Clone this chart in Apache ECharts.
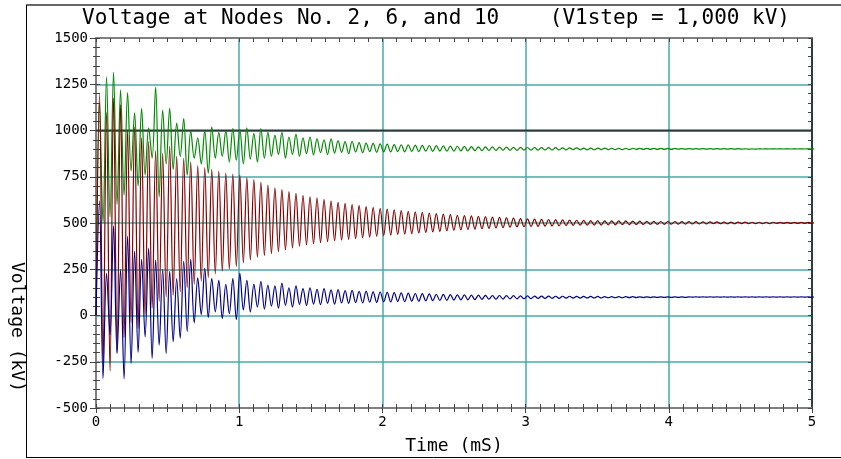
<!DOCTYPE html>
<html><head><meta charset="utf-8">
<script src="https://cdn.jsdelivr.net/npm/echarts@6/dist/echarts.min.js"></script>
<style>html,body{margin:0;padding:0;background:#fff}#c{width:841px;height:459px}</style>
</head><body><div id="c"></div>
<script>
// sample spacing of the read-off values (half of the ~0.049 ms ringing period)
const sampleStepMs = 0.0245;

// Node 2 (green) voltage in kV
const node2 = [
0,1150,500,1290,530,1315,600,1220,650,1205,
780,1095,700,1120,760,1015,850,1235,640,1110,
820,1120,790,1040,860,1065,760,1000,850,960,
820,1000,770,1020,850,990,860,1000,830,1010,
840,1005,820,1015,845,985,830,1010,850,990,
860,975,870,990,850,965,870,980,860,960,
875,965,868,955,880,950,870,955,878,945,
882,940,875,942,884,935,880,932,886,930,
882,928,885,926,884,924,886,923,885,922,
887,921,886,920,888,919,887,918,889,917,
888,916,889,915,890,914,890,913,891,912,
891,912,892,911,892,910,893,910,893,909,
893,909,894,908,894,908,894,907,895,907,
895,907,895,906,895,906,896,906,896,905,
896,905,896,905,897,905,897,904,897,904,
897,904,897,904,898,903,898,903,898,903,
898,903,898,903,898,903,899,902,899,902,
899,902,899,902,899,902,899,902,899,902,
899,902,899,902,899,901,899,901,899,901,
900,901,900,901,900,901,900,901,900,901,
900,901,900,901,900,901
];

// Node 6 (red) voltage in kV
const node6 = [
0,1200,-260,1100,-300,1175,-200,1140,-120,1000,
-40,1020,-70,960,5,940,40,890,76,875,
100,915,110,860,130,850,150,830,170,810,
185,800,205,790,225,780,240,770,250,765,
265,760,285,745,300,735,315,720,325,705,
335,690,345,680,355,670,365,660,375,650,
382,642,388,634,394,626,399,619,404,612,
408,606,412,600,416,594,420,589,424,584,
428,579,431,575,434,571,437,567,440,563,
443,560,446,557,449,554,452,551,455,548,
458,545,461,542,463,540,465,538,467,536,
469,534,471,532,473,530,475,528,477,526,
479,524,480,522,481,521,482,520,483,519,
484,518,485,517,486,516,487,515,488,514,
488,513,489,513,489,512,490,512,490,511,
491,511,491,510,492,510,492,509,493,509,
493,508,493,508,494,508,494,507,494,507,
495,507,495,506,495,506,496,506,496,505,
496,505,496,505,497,505,497,504,497,504,
497,504,497,504,498,503,498,503,498,503,
498,503,498,503,499,502
];

// Node 10 (blue) voltage in kV
const node10 = [
0,620,-340,228,-103,484,-206,250,-342,429,
-260,348,-200,304,-116,364,-232,300,-160,250,
-206,239,-141,200,-123,293,-87,304,-40,203,
5,255,-10,200,20,190,-16,168,10,200,
-22,228,30,190,20,170,45,185,35,165,
50,160,40,175,55,150,45,160,60,145,
55,150,62,141,58,145,66,138,62,140,
68,134,66,136,70,130,68,132,72,128,
71,127,74,125,73,124,76,122,75,121,
78,119,77,118,79,117,80,115,81,114,
82,113,83,112,84,111,85,110,86,110,
87,109,88,108,88,108,89,107,90,107,
90,106,91,106,91,105,92,105,92,105,
93,104,93,104,94,104,94,103,94,103,
95,103,95,103,95,102,96,102,96,102,
96,102,97,102,97,101,97,101,97,101,
98,101,98,101,98,101,98,101,98,101,
99,101,99,101,99,101,99,101,99,101,
99,101,99,101,99,101,99,101,99,101,
99,101,99,101,99,101,99,101,99,101,
99,101,99,101,99,101
];

// V1 step level (kV)
const v1stepLevel = [[0, 1000], [5, 1000]];

const xRange = [0, 5];
const yRange = [-500, 1500];
const titleText = 'Voltage at Nodes No. 2, 6, and 10    (V1step = 1,000 kV)';
const xName = 'Time (mS)';
const yName = 'Voltage (kV)';

const toPairs = arr => arr.map((v, i) => [+(i * sampleStepMs).toFixed(4), v]);

const MONO = '"DejaVu Sans Mono", "Liberation Mono", monospace';
const TEAL = '#4aa8a8';
const plain = v => String(v);

const chart = echarts.init(document.getElementById('c'), null, {renderer: 'canvas'});
const rect = {left: 96, right: 29, top: 38, bottom: 51, containLabel: false};

chart.setOption({
  animation: false,
  backgroundColor: '#fff',
  grid: [Object.assign({}, rect), Object.assign({}, rect)],
  xAxis: [
    {type: 'value', gridIndex: 0, position: 'bottom', min: xRange[0], max: xRange[1], interval: 1,
     axisLine: {show: true, onZero: false, lineStyle: {color: '#808080', width: 2}},
     axisTick: {show: true, inside: false, length: 5, lineStyle: {color: '#444'}},
     minorTick: {show: true, splitNumber: 10, length: 4, lineStyle: {color: '#444'}},
     axisLabel: {margin: 7, fontFamily: MONO, fontSize: 14, color: '#000', formatter: plain},
     splitLine: {show: true, lineStyle: {color: TEAL, width: 1.5}}},
    {type: 'value', gridIndex: 0, position: 'top', min: xRange[0], max: xRange[1], interval: 1,
     axisLine: {show: true, onZero: false, lineStyle: {color: '#808080', width: 2}},
     axisTick: {show: true, inside: true, length: 4, lineStyle: {color: '#444'}},
     minorTick: {show: true, splitNumber: 10, length: 4, lineStyle: {color: '#444'}},
     axisLabel: {show: false}, splitLine: {show: false}},
    {type: 'value', gridIndex: 1, position: 'bottom', min: xRange[0], max: xRange[1], interval: 1,
     axisLine: {show: false, onZero: false},
     axisTick: {show: true, inside: true, length: 4, lineStyle: {color: '#444'}},
     minorTick: {show: true, splitNumber: 10, length: 4, lineStyle: {color: '#444'}},
     axisLabel: {show: false}, splitLine: {show: false}}
  ],
  yAxis: [
    {type: 'value', gridIndex: 0, position: 'left', min: yRange[0], max: yRange[1], interval: 250,
     axisLine: {show: true, onZero: false, lineStyle: {color: '#808080', width: 2}},
     axisTick: {show: true, inside: false, length: 6, lineStyle: {color: '#444'}},
     minorTick: {show: true, splitNumber: 5, length: 3, lineStyle: {color: '#444'}},
     axisLabel: {margin: 8, fontFamily: MONO, fontSize: 14, color: '#000', formatter: plain},
     splitLine: {show: true, lineStyle: {color: TEAL, width: 1.5}}},
    {type: 'value', gridIndex: 0, position: 'right', min: yRange[0], max: yRange[1], interval: 250,
     axisLine: {show: true, onZero: false, lineStyle: {color: '#111', width: 1.5}},
     axisTick: {show: true, inside: true, length: 4, lineStyle: {color: '#444'}},
     minorTick: {show: true, splitNumber: 5, length: 4, lineStyle: {color: '#444'}},
     axisLabel: {show: false}, splitLine: {show: false}},
    {type: 'value', gridIndex: 1, position: 'left', min: yRange[0], max: yRange[1], interval: 250,
     axisLine: {show: false, onZero: false},
     axisTick: {show: true, inside: true, length: 4, lineStyle: {color: '#444'}},
     minorTick: {show: true, splitNumber: 5, length: 4, lineStyle: {color: '#444'}},
     axisLabel: {show: false}, splitLine: {show: false}}
  ],
  series: [
    {name: 'V1step', type: 'line', xAxisIndex: 0, yAxisIndex: 0, data: v1stepLevel, symbol: 'none',
     lineStyle: {color: '#2a3a3a', width: 1.8}, z: 1, silent: true},
    {name: 'Node 2', type: 'line', xAxisIndex: 0, yAxisIndex: 0, data: toPairs(node2), symbol: 'none',
     smooth: 0.35, lineStyle: {color: '#008a00', width: 1.2}, z: 2},
    {name: 'Node 6', type: 'line', xAxisIndex: 0, yAxisIndex: 0, data: toPairs(node6), symbol: 'none',
     smooth: 0.35, lineStyle: {color: '#850000', width: 1.2}, z: 3},
    {name: 'Node 10', type: 'line', xAxisIndex: 0, yAxisIndex: 0, data: toPairs(node10), symbol: 'none',
     smooth: 0.35, lineStyle: {color: '#00008a', width: 1.2}, z: 4}
  ],
  graphic: [
    {type: 'line', shape: {x1: 26, y1: 5, x2: 841, y2: 5}, style: {stroke: '#666', lineWidth: 2}, silent: true},
    {type: 'line', shape: {x1: 26.5, y1: 5, x2: 26.5, y2: 457}, style: {stroke: '#000', lineWidth: 1}, silent: true},
    {type: 'line', shape: {x1: 26, y1: 457.5, x2: 841, y2: 457.5}, style: {stroke: '#000', lineWidth: 1}, silent: true},
    {type: 'text', x: 82, y: 19, silent: true,
     style: {text: titleText, font: '21px ' + MONO, fill: '#000', textAlign: 'left', textVerticalAlign: 'middle'}},
    {type: 'text', x: 454, y: 446, silent: true,
     style: {text: xName, font: '18px ' + MONO, fill: '#000', textAlign: 'center', textVerticalAlign: 'middle'}},
    {type: 'text', x: 17, y: 327, rotation: -Math.PI / 2, silent: true,
     style: {text: yName, font: '18px ' + MONO, fill: '#000', textAlign: 'center', textVerticalAlign: 'middle'}}
  ]
});
</script>
</body></html>
